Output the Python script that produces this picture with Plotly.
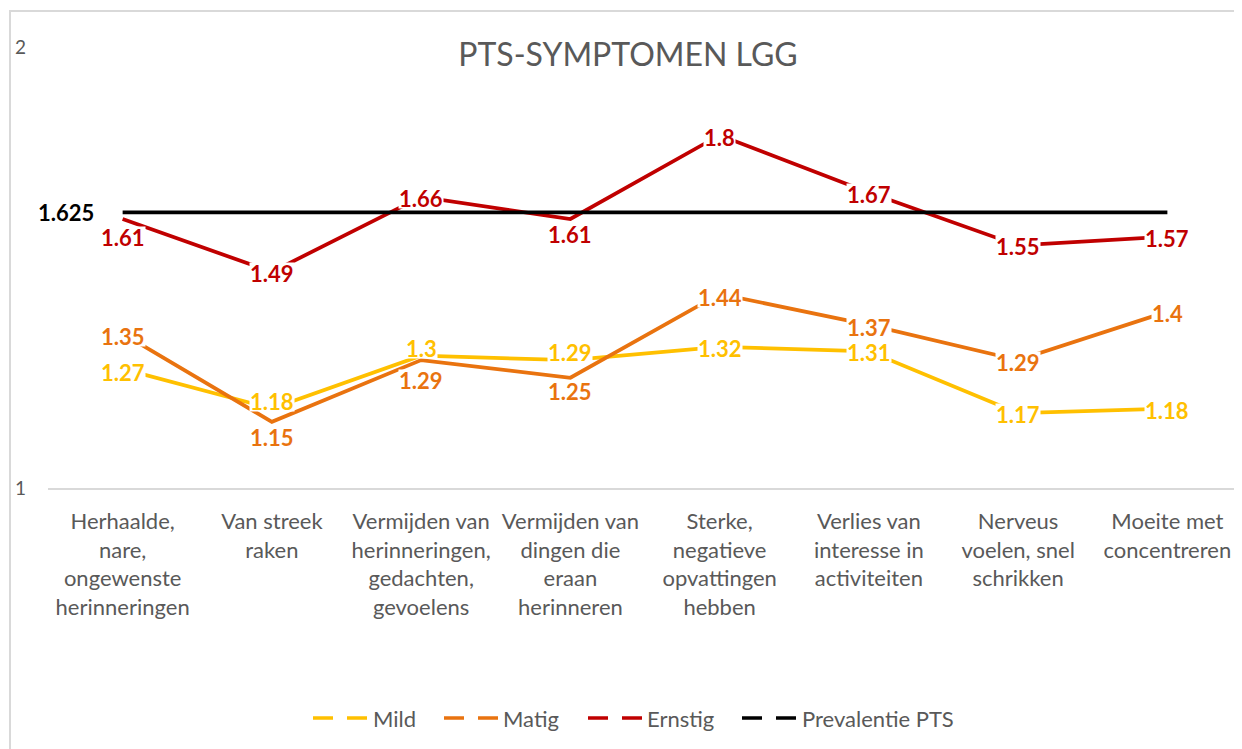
import plotly.graph_objects as go

categories = [
    "Herhaalde,<br>nare,<br>ongewenste<br>herinneringen",
    "Van streek<br>raken",
    "Vermijden van<br>herinneringen,<br>gedachten,<br>gevoelens",
    "Vermijden van<br>dingen die<br>eraan<br>herinneren",
    "Sterke,<br>negatieve<br>opvattingen<br>hebben",
    "Verlies van<br>interesse in<br>activiteiten",
    "Nerveus<br>voelen, snel<br>schrikken",
    "Moeite met<br>concentreren",
]
mild = [1.27, 1.18, 1.30, 1.29, 1.32, 1.31, 1.17, 1.18]
matig = [1.35, 1.15, 1.29, 1.25, 1.44, 1.37, 1.29, 1.40]
ernstig = [1.61, 1.49, 1.66, 1.61, 1.80, 1.67, 1.55, 1.57]
prevalentie = [1.625] * 8
series_names = ["Mild", "Matig", "Ernstig", "Prevalentie PTS"]

colors = ["#FFC000", "#E9730F", "#C00000", "#000000"]
# label vertical offsets in px (positive = below the point), styling only
label_dy = [
    [3, -8, -8, -8, 1, 1, 1, 1],
    [2, 15, 20, 13, 3, 2, 2, 1],
    [18, 1, 1, 15, 2, 1, 1, 1],
]
# legend item left edges in page px (symbol start, text start)
legend_sym_x = [313, 444, 588, 742]
legend_txt_x = [371, 501, 645, 800]

FONT = "Lato"
GRAY = "#595959"
W, H = 1234, 741        # page has an 8px body margin
PL, PT, PB = 40, 39, 261
PW, PH = W - PL, H - PT - PB


def px2paper_x(px):
    return (px - 8 - PL) / PW


def px2paper_y(py):
    return (H - PB - (py - 8)) / PH


fig = go.Figure()
all_vals = [mild, matig, ernstig, prevalentie]
for name, vals, col in zip(series_names, all_vals, colors):
    fig.add_trace(go.Scatter(
        x=categories, y=vals, mode="lines", name=name,
        line=dict(color=col, width=3.75), showlegend=False,
    ))

annotations = []
for s, (vals, col) in enumerate(zip(all_vals[:3], colors[:3])):
    for i, (c, v) in enumerate(zip(categories, vals)):
        annotations.append(dict(
            x=c, y=v, xref="x", yref="y", text=f"<b>{v:g}</b>",
            showarrow=False, bgcolor="white", borderpad=0,
            font=dict(family=FONT, size=22, color=col),
            yshift=-label_dy[s][i], height=20,
        ))
annotations.append(dict(
    x=categories[0], y=prevalentie[0], xref="x", yref="y",
    text=f"<b>{prevalentie[0]:g}</b>", showarrow=False,
    font=dict(family=FONT, size=22, color="#000000"), xshift=-57,
))

shapes = [dict(type="rect", xref="paper", yref="paper",
               x0=px2paper_x(10), x1=1.05, y0=-0.7, y1=px2paper_y(11),
               line=dict(color="#D9D9D9", width=2), layer="below")]

# legend drawn as dashed line samples + text
ly = px2paper_y(718)
for name, col, sx, tx in zip(series_names, colors, legend_sym_x, legend_txt_x):
    shapes.append(dict(type="line", xref="paper", yref="paper",
                       x0=px2paper_x(sx), x1=px2paper_x(sx + 55), y0=ly, y1=ly,
                       line=dict(color=col, width=3.5, dash="20px,14px")))
    annotations.append(dict(x=px2paper_x(tx), y=ly, xref="paper", yref="paper",
                            text=name, showarrow=False, xanchor="left",
                            yanchor="middle",
                            font=dict(family=FONT, size=22, color=GRAY)))

fig.update_layout(
    width=W, height=H,
    margin=dict(l=PL, r=0, t=PT, b=PB),
    paper_bgcolor="white", plot_bgcolor="white",
    font=dict(family=FONT, color=GRAY),
    title=dict(text="PTS-SYMPTOMEN LGG", x=620 / W, xanchor="center",
               y=1 - 47 / H, yanchor="middle", yref="container",
               font=dict(family=FONT, size=32, color=GRAY)),
    annotations=annotations,
    shapes=shapes,
    showlegend=False,
)
fig.update_xaxes(
    type="category", range=[-0.5, 7.5], showgrid=False, zeroline=False,
    showline=True, linecolor="#D9D9D9", linewidth=1.5, ticks="",
    tickfont=dict(family=FONT, size=22, color=GRAY), ticklabelstandoff=13,
)
fig.update_yaxes(
    range=[1, 2], tickvals=[1, 2], ticktext=["1", "2"], showgrid=False,
    zeroline=False, showline=False, ticks="", ticklabelstandoff=21,
    tickfont=dict(family=FONT, size=19, color=GRAY),
)

fig.write_html("out.html")
